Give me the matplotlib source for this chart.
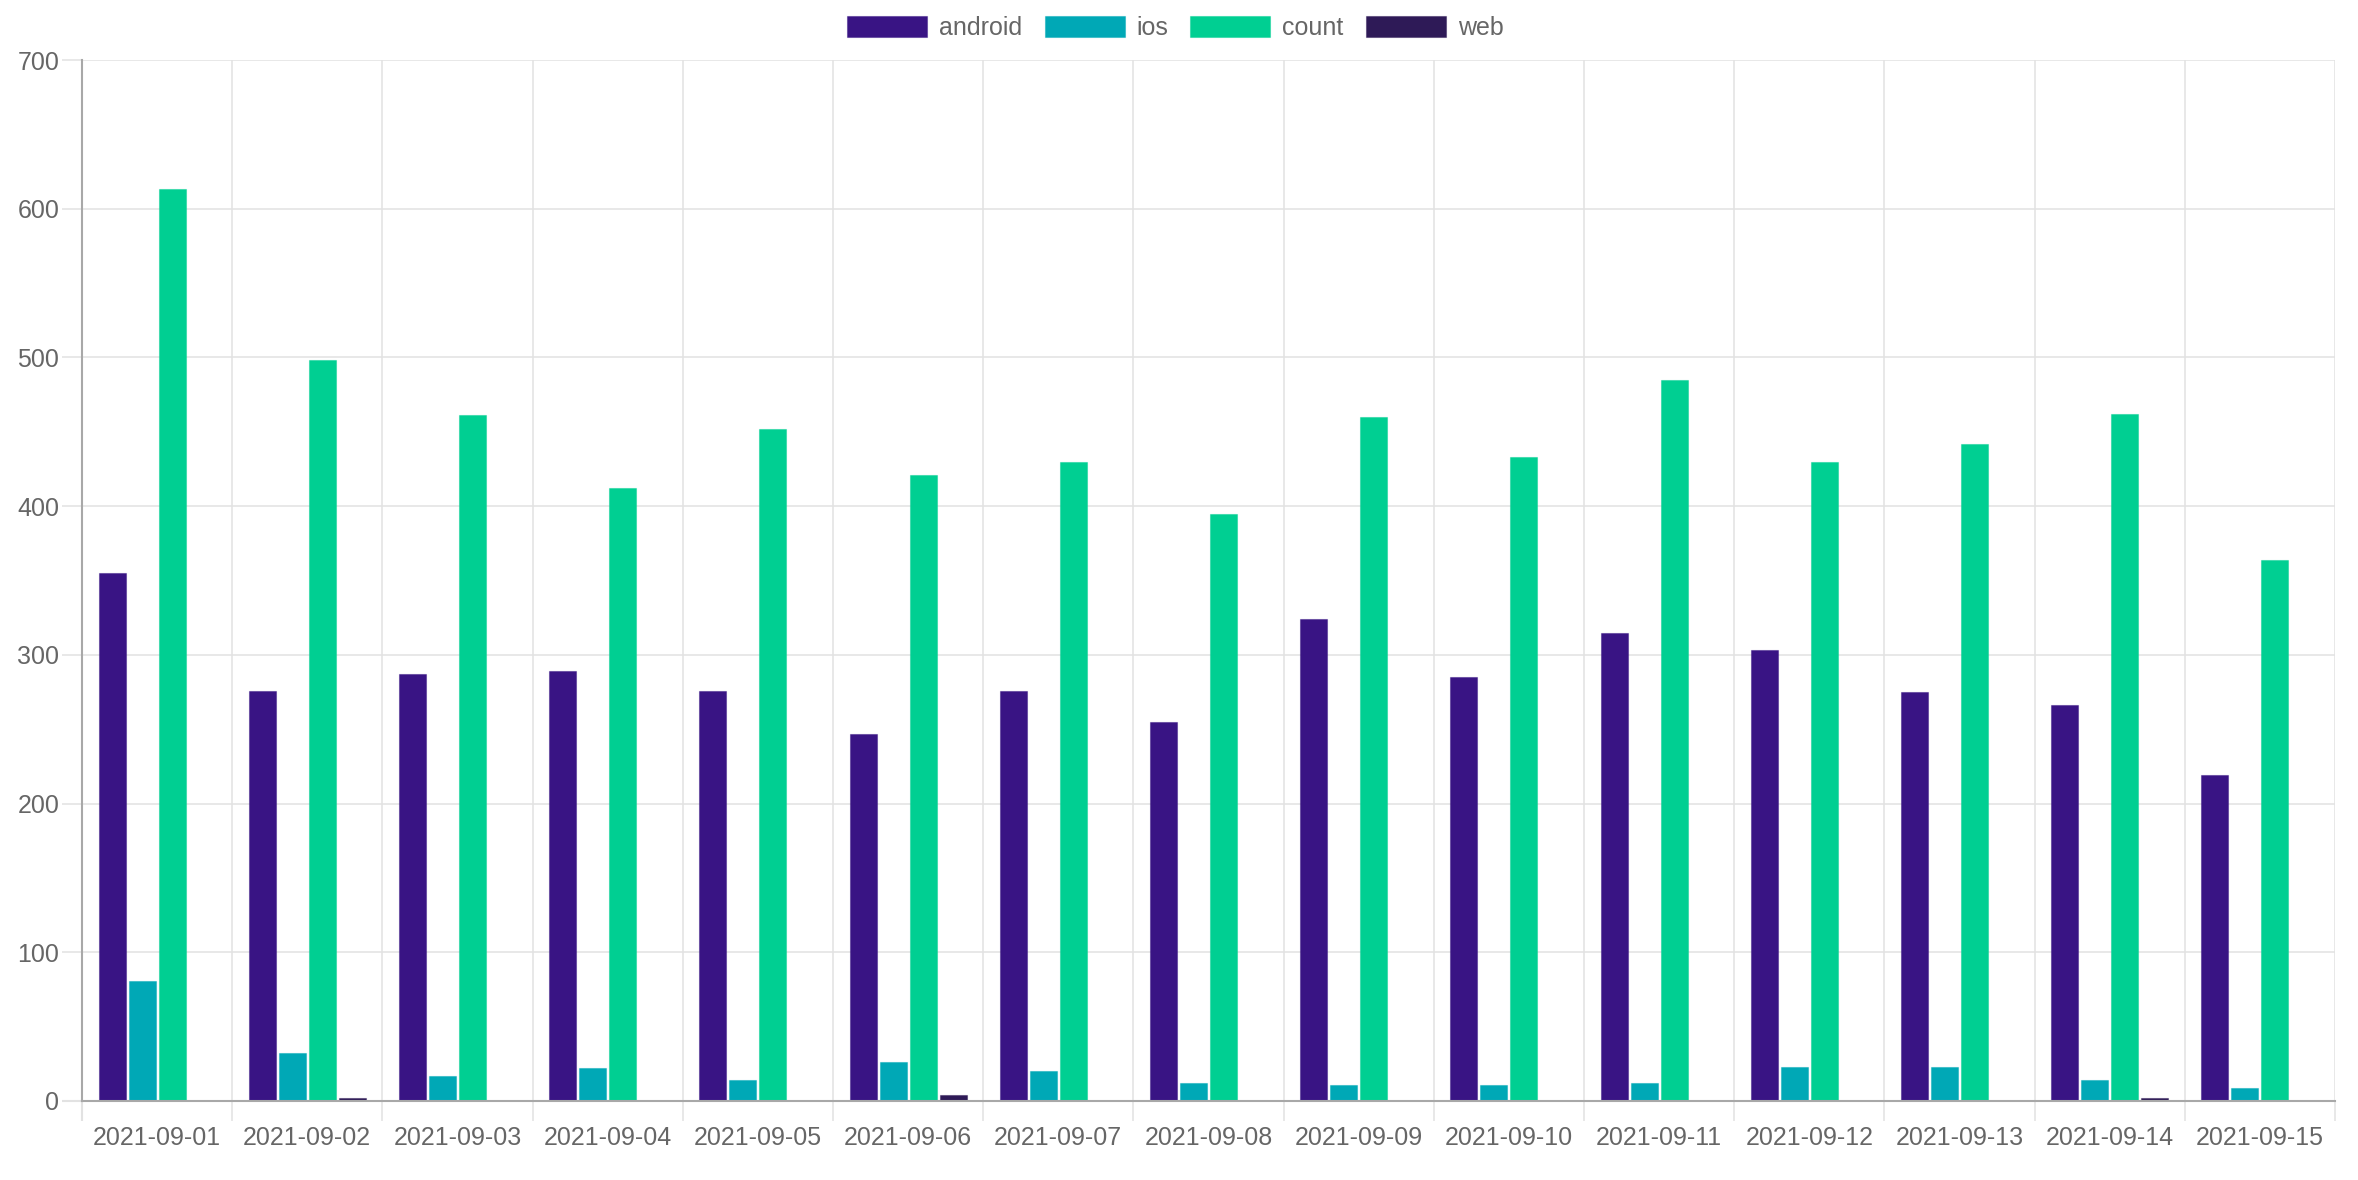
import matplotlib.pyplot as plt
import numpy as np
from matplotlib.colors import to_rgba


dates = ['2021-09-01', '2021-09-02', '2021-09-03', '2021-09-04', '2021-09-05',
         '2021-09-06', '2021-09-07', '2021-09-08', '2021-09-09', '2021-09-10',
         '2021-09-11', '2021-09-12', '2021-09-13', '2021-09-14', '2021-09-15']
android = [355, 276, 287, 289, 276, 247, 276, 255, 324, 285, 315, 303, 275, 266, 219]
ios = [81, 32, 17, 22, 14, 26, 20, 12, 11, 11, 12, 23, 23, 14, 9]
count = [613, 498, 461, 412, 452, 421, 430, 395, 460, 433, 485, 430, 442, 462, 364]
web = [0, 2, 0, 0, 0, 4, 0, 0, 0, 0, 0, 0, 0, 2, 0]

series = [('android', android, '#391484'),
          ('ios', ios, '#00A8B6'),
          ('count', count, '#00CF92'),
          ('web', web, '#2E1A57')]

grid_c = '#e2e2e2'
axis_c = '#a8a8a8'
text_c = '#666666'
fs = 9.0

plt.rcParams['font.family'] = ['Liberation Sans', 'DejaVu Sans']

fig = plt.figure(figsize=(11.79, 5.9), dpi=200)
ax = fig.add_axes([82 / 2358, 1 - 1101 / 1180, (2335 - 82) / 2358, (1101 - 60) / 1180])

x = np.arange(len(dates))
slot = 0.8 / len(series)
for i, (name, vals, col) in enumerate(series):
    off = (i - (len(series) - 1) / 2) * slot
    ax.bar(x + off, vals, width=slot * 0.9, color=col, label=name,
           edgecolor=to_rgba(col, 0.45), linewidth=0.4, zorder=3)

ax.set_xlim(-0.5, len(dates) - 0.5)
ax.set_ylim(0, 700)
ax.set_yticks(np.arange(0, 701, 100))

ax.set_xticks(x)
ax.set_xticklabels(dates)
ax.set_xticks(np.arange(-0.5, len(dates)), minor=True)

ax.tick_params(axis='x', which='major', length=0, pad=9, labelsize=fs, labelcolor=text_c)
ax.tick_params(axis='x', which='minor', length=7.2, width=0.55, color=grid_c)
ax.tick_params(axis='y', length=7.2, width=0.55, color=grid_c, pad=1,
               labelsize=fs, labelcolor=text_c)

ax.grid(True, axis='y', color=grid_c, linewidth=0.55, zorder=0)
ax.grid(True, axis='x', which='minor', color=grid_c, linewidth=0.55, zorder=0)

for s in ['top', 'right']:
    ax.spines[s].set_visible(False)
for s in ['left', 'bottom']:
    ax.spines[s].set_color(axis_c)
    ax.spines[s].set_linewidth(0.75)
    ax.spines[s].set_zorder(4)

# zero line and left edge ticks are darker, like the axis lines
ax.yaxis.get_major_ticks()[0].tick1line.set_color(axis_c)
ax.yaxis.get_major_ticks()[0].tick1line.set_markeredgewidth(0.75)
ax.xaxis.get_minor_ticks()[0].tick1line.set_color(axis_c)
ax.xaxis.get_minor_ticks()[0].tick1line.set_markeredgewidth(0.75)

leg = fig.legend(loc='center', bbox_to_anchor=(0.4985, 1 - 28 / 1180), ncol=4,
                 frameon=False, fontsize=fs, handlelength=3.2, handleheight=0.95,
                 handletextpad=0.48, columnspacing=0.88, borderpad=0)
for t in leg.get_texts():
    t.set_color(text_c)

fig.savefig('out.png', dpi=200, facecolor='white')
